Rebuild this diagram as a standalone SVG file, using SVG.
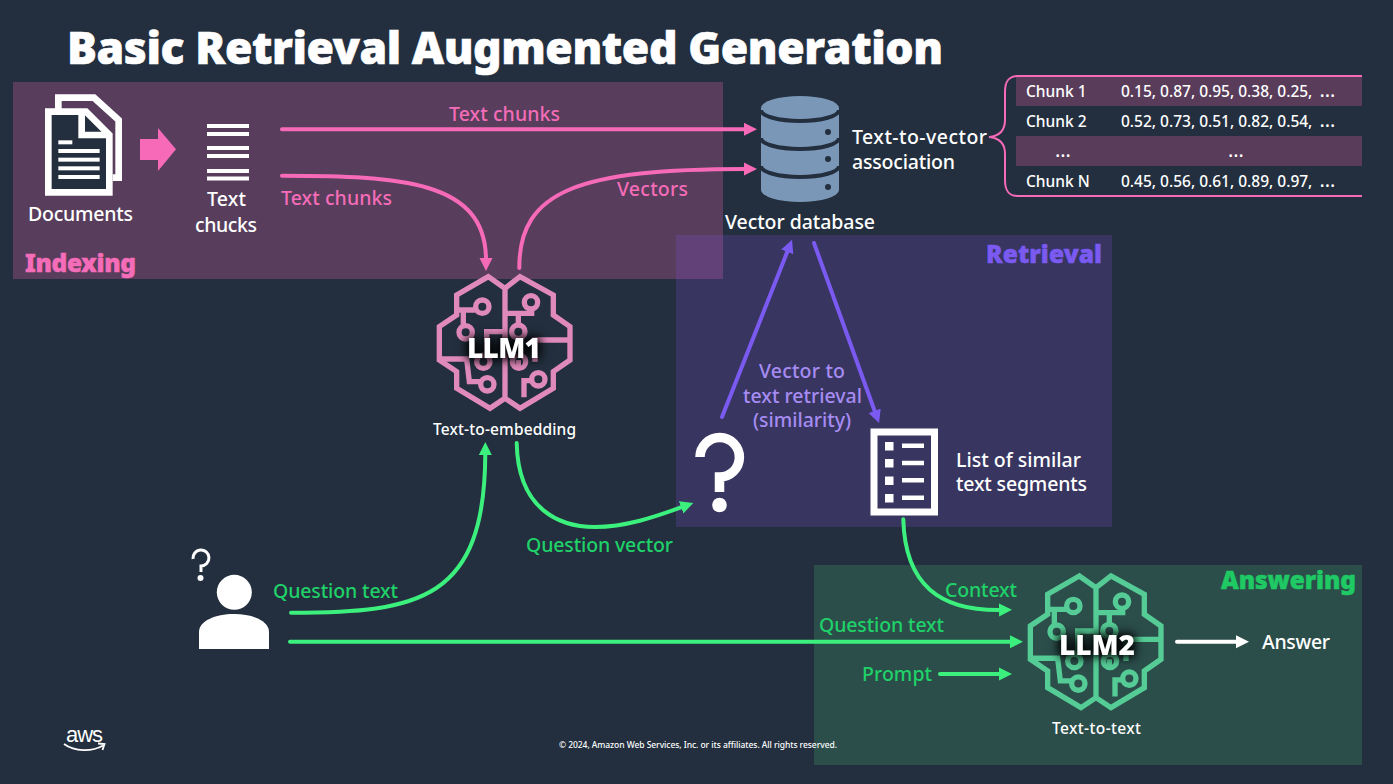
<svg xmlns="http://www.w3.org/2000/svg" xmlns:xlink="http://www.w3.org/1999/xlink" width="1393" height="784" viewBox="0 0 1393 784">
<style>
text{font-family:"Noto Sans","Open Sans","Liberation Sans",sans-serif;fill:#fff;font-size:19.500px;font-weight:500}
.pink{fill:#f56cb8}.green{fill:#1fd168}.lav{fill:#a68cf2}
.head{font-weight:900;font-size:24.500px;stroke-width:.5px}
.sm{font-size:15.500px}
.row{font-size:15.500px}
.ell{font-size:20px;font-weight:400}
.llm{font-weight:900;font-size:28px;text-anchor:middle;filter:drop-shadow(0 0 5px #000) drop-shadow(0 0 5px #000)}
.c{fill:none;stroke-width:4;stroke-linecap:round}
.cp{stroke:#f76ab8}.cv{stroke:#7a5af0}.cg{stroke:#3cf07e}.cw{stroke:#fff}
.brain{fill:none;stroke-width:16;stroke-linejoin:miter}
.w{fill:#fff}
</style>
<defs>
<marker id="ap" markerUnits="userSpaceOnUse" markerWidth="15" markerHeight="15" refX="2" refY="7" orient="auto"><path d="M0,0.500L13,7L0,13.500Z" fill="#f76ab8"/></marker>
<marker id="av" markerUnits="userSpaceOnUse" markerWidth="15" markerHeight="15" refX="2" refY="7" orient="auto"><path d="M0,0.500L13,7L0,13.500Z" fill="#7a5af0"/></marker>
<marker id="ag" markerUnits="userSpaceOnUse" markerWidth="15" markerHeight="15" refX="2" refY="7" orient="auto"><path d="M0,0.500L13,7L0,13.500Z" fill="#3cf07e"/></marker>
<marker id="aw" markerUnits="userSpaceOnUse" markerWidth="15" markerHeight="15" refX="2" refY="7" orient="auto"><path d="M0,0.500L13,7L0,13.500Z" fill="#fff"/></marker>
<g id="brainShape" transform="scale(.3333)">
<path d="M205,50L110,105V165L58,200V300L110,335V385L210,445L255,415L300,445L400,385V335L450,300V200L400,165V105L300,50L255,85ZM255,85V415"/>
<path d="M110,150H165M130,150V198M58,297H140L148,365H182M200,290V215H255M255,160H335V147M295,160V195M295,325V300M345,305V240H450M355,240H420M335,362H312V412"/>
<circle cx="187" cy="140" r="20"/><circle cx="137" cy="217" r="20"/><circle cx="190" cy="305" r="20"/><circle cx="202" cy="373" r="20"/>
<circle cx="333" cy="127" r="20"/><circle cx="295" cy="215" r="20"/><circle cx="297" cy="305" r="20"/><circle cx="355" cy="358" r="20"/>
</g>
</defs>
<rect width="1393" height="784" fill="#232f3e"/>
<g id="regions">
<rect x="13" y="82" width="710" height="197" fill="#f66bb8" fill-opacity=".25"/>
<rect x="676" y="235" width="436" height="292" fill="#8c52f2" fill-opacity=".2"/>
<rect x="814" y="565" width="548" height="200" fill="#4bcf84" fill-opacity=".2"/>
</g>
<text id="title" x="67" y="64" textLength="876" style="font-size:44.500px;font-weight:900;stroke:#fff;stroke-width:.6px">Basic Retrieval Augmented Generation</text>
<g id="connectors">
<path class="c cp" marker-end="url(#ap)" d="M282,129.300H746"/>
<path class="c cp" marker-end="url(#ap)" d="M282,175.700C400,176 486,180 486,260"/>
<path class="c cp" marker-end="url(#ap)" d="M519.300,268C519,190 580,169 746,169"/>
<path class="c cv" marker-end="url(#av)" d="M722,417L788,250"/>
<path class="c cv" marker-end="url(#av)" d="M814,243L875.300,412.700"/>
<path class="c cg" marker-end="url(#ag)" d="M516.700,443C518,510 560,527 595,527C625,527 655,517 683,506.700"/>
<path class="c cg" marker-end="url(#ag)" d="M291,612.700C420,612.700 485,600 485.300,453"/>
<path class="c cg" marker-end="url(#ag)" d="M290,641.700H1012"/>
<path class="c cg" marker-end="url(#ag)" d="M940,674H1001"/>
<path class="c cg" marker-end="url(#ag)" d="M903.300,519.300C905,585 940,611 1001,610"/>
<path class="c cw" marker-end="url(#aw)" d="M1177,641.700H1238"/>
</g>
<g id="documents">
<g transform="translate(0,70) scale(.3333)">
<path d="M175,125V83H282L356,150V323H338" fill="none" stroke="#fff" stroke-width="20"/>
<path d="M145,125H258L328,195V367H145Z" fill="#232f3e" stroke="#fff" stroke-width="20"/>
<path d="M245,130V195H320" fill="none" stroke="#fff" stroke-width="20"/>
<rect x="175" y="211" width="42" height="12" class="w"/><rect x="175" y="237" width="124" height="12" class="w"/><rect x="175" y="263" width="124" height="12" class="w"/><rect x="175" y="289" width="124" height="12" class="w"/><rect x="175" y="315" width="124" height="12" class="w"/>
</g>
<text x="28" y="221" textLength="105">Documents</text>
</g>
<path id="doc-arrow" d="M140,139H158V128L176,149.300L158,171V160H140Z" fill="#f76ab8"/>
<g id="text-chunks">
<rect x="207" y="124" width="42" height="4" class="w"/><rect x="207" y="132" width="42" height="4" class="w"/><rect x="207" y="146" width="42" height="4" class="w"/><rect x="207" y="154" width="42" height="4" class="w"/><rect x="207" y="169" width="42" height="4" class="w"/><rect x="207" y="176.500" width="42" height="4" class="w"/>
<text x="207" y="206" textLength="39">Text</text><text x="195" y="232" textLength="62">chucks</text>
</g>
<g id="labels-connectors">
<text class="pink" x="449" y="121" textLength="111">Text chunks</text>
<text class="pink" x="281" y="205" textLength="111">Text chunks</text>
<text class="pink" x="617" y="196" textLength="71">Vectors</text>
<text class="green" x="526" y="551.500" textLength="147">Question vector</text>
<text class="green" x="273" y="598" textLength="125">Question text</text>
<text class="green" x="819" y="632" textLength="125">Question text</text>
<text class="green" x="945" y="597" textLength="72">Context</text>
<text class="green" x="862" y="681" textLength="70">Prompt</text>
<text class="lav" x="759" y="378" textLength="86">Vector to</text>
<text class="lav" x="743" y="403" textLength="119">text retrieval</text>
<text class="lav" x="753" y="427" textLength="98">(similarity)</text>
</g>
<text id="indexing" class="head pink" x="25" y="272" textLength="111" stroke="#f56cb8">Indexing</text>
<text id="retrieval" class="head" x="986" y="263" textLength="116" stroke="#7a5af0" style="fill:#7a5af0">Retrieval</text>
<text id="answering" class="head" x="1221" y="589" textLength="135" stroke="#1fc963" style="fill:#1fc963">Answering</text>
<g id="database">
<path d="M761,108V190A39,12 0 0 0 839,190V108A39,12 0 0 0 761,108Z" fill="#7a97b8"/>
<path d="M761,110A39,11 0 0 0 839,110M761,138A39,11 0 0 0 839,138M761,166A39,11 0 0 0 839,166" fill="none" stroke="#232f3e" stroke-width="4"/>
<circle cx="828" cy="132" r="3" fill="#232f3e"/><circle cx="828" cy="159" r="3" fill="#232f3e"/><circle cx="828" cy="187" r="3" fill="#232f3e"/>
<text x="725" y="229" textLength="150">Vector database</text>
</g>
<g id="association">
<text x="852" y="144" textLength="135">Text-to-vector</text><text x="852" y="169" textLength="103">association</text>
</g>
<g id="table">
<rect x="1016" y="77" width="346" height="29" fill="#593c5a"/><rect x="1016" y="136" width="346" height="30" fill="#593c5a"/>
<path d="M1362,76H1018C1008,76 1005,82 1005,92V120C1005,130 1000,136 989,137C1000,138 1005,144 1005,154V180C1005,190 1008,196 1018,196H1362" fill="none" stroke="#f76ab8" stroke-width="2"/>
<text class="row" x="1026" y="97">Chunk 1</text><text class="row" x="1121" y="97">0.15, 0.87, 0.95, 0.38, 0.25, <tspan class="ell" dx="3">…</tspan></text>
<text class="row" x="1026" y="127">Chunk 2</text><text class="row" x="1121" y="127">0.52, 0.73, 0.51, 0.82, 0.54, <tspan class="ell" dx="3">…</tspan></text>
<text class="ell" x="1055" y="157">…</text><text class="ell" x="1228" y="157">…</text>
<text class="row" x="1026" y="187">Chunk N</text><text class="row" x="1121" y="187">0.45, 0.56, 0.61, 0.89, 0.97, <tspan class="ell" dx="3">…</tspan></text>
</g>
<g id="llm1">
<use xlink:href="#brainShape" href="#brainShape" class="brain" stroke="#e08abb" transform="translate(420,260)"/>
<text class="llm" x="504" y="358" textLength="74">LLM1</text>
<text class="sm" x="433" y="435" textLength="143">Text-to-embedding</text>
</g>
<g id="llm2">
<use xlink:href="#brainShape" href="#brainShape" class="brain" stroke="#55cc96" transform="translate(1011,559.300)"/>
<text class="llm" x="1097" y="655" textLength="76">LLM2</text>
<text class="sm" x="1052" y="734" textLength="89">Text-to-text</text>
</g>
<g id="query">
<path d="M700,457A19.700,19.700 0 1 1 719.500,477V492" fill="none" stroke="#fff" stroke-width="9.500"/>
<circle cx="719.500" cy="505" r="7.300" class="w"/>
</g>
<g id="list">
<rect x="874" y="432" width="60.500" height="80" fill="none" stroke="#fff" stroke-width="7"/>
<rect x="885" y="442" width="8.500" height="8.500" class="w"/><rect x="885" y="459" width="8.500" height="8.500" class="w"/><rect x="885" y="476.500" width="8.500" height="8.500" class="w"/><rect x="885" y="494" width="8.500" height="8.500" class="w"/>
<path d="M902,445.700H924M902,463H924M902,480.300H924M902,497.700H924" stroke="#fff" stroke-width="4.500"/>
<text x="956" y="467" textLength="125">List of similar</text><text x="956" y="491" textLength="131">text segments</text>
</g>
<g id="user">
<path d="M193,559A8,8 0 1 1 201,566V572" fill="none" stroke="#fff" stroke-width="3"/><circle cx="200.500" cy="578" r="3" class="w"/>
<circle cx="234.300" cy="592.300" r="17.500" class="w"/>
<path d="M199,649V632C199,621 215,614 234,614C253,614 269,621 269,632V649Z" class="w"/>
</g>
<text id="answer" x="1262" y="649" textLength="68">Answer</text>
<g id="aws-logo">
<text x="66" y="742" textLength="37" style="font-size:22px;font-family:'Liberation Sans',sans-serif">aws</text>
<path d="M64,744C75,752 92,752 103,745.500M98,743.500L104.500,744L102.500,750" fill="none" stroke="#fff" stroke-width="1.800"/>
</g>
<text id="copyright" x="559" y="748" textLength="278" style="font-size:8.500px">© 2024, Amazon Web Services, Inc. or its affiliates. All rights reserved.</text>
</svg>
